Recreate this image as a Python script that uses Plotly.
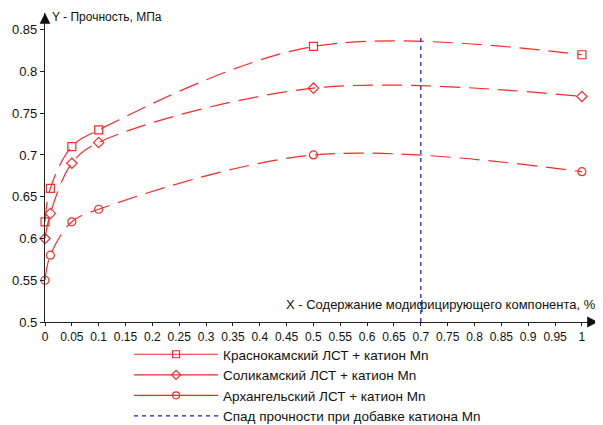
import plotly.graph_objects as go

x_vals = [0, 0.01, 0.05, 0.1, 0.5, 1]
krasnokamsk = [0.62, 0.66, 0.71, 0.73, 0.83, 0.82]
solikamsk = [0.60, 0.63, 0.69, 0.715, 0.78, 0.77]
arkhangelsk = [0.55, 0.58, 0.62, 0.635, 0.70, 0.68]
drop_x = [0.7, 0.7]
drop_y = [0.5, 0.845]

names = ["Краснокамский ЛСТ + катион Mn",
         "Соликамский ЛСТ + катион Mn",
         "Архангельский ЛСТ + катион Mn",
         "Спад прочности при добавке катиона Mn"]

x_ticks = [0, 0.05, 0.1, 0.15, 0.2, 0.25, 0.3, 0.35, 0.4, 0.45, 0.5, 0.55, 0.6,
           0.65, 0.7, 0.75, 0.8, 0.85, 0.9, 0.95, 1]
y_ticks = [0.5, 0.55, 0.6, 0.65, 0.7, 0.75, 0.8, 0.85]

FONT = "Liberation Sans, Arial"
red = "#ff2828"
fig = go.Figure()
for ys, sym, nm in [(krasnokamsk, "square-open", names[0]),
                    (solikamsk, "diamond-open", names[1]),
                    (arkhangelsk, "circle-open", names[2])]:
    # dashed smooth curve through the data
    fig.add_trace(go.Scatter(
        x=x_vals, y=ys, mode="lines", showlegend=False, hoverinfo="skip",
        line=dict(color=red, width=1.2, shape="spline", smoothing=1.0, dash="20px,9px"),
        cliponaxis=False))
    # markers
    fig.add_trace(go.Scatter(
        x=x_vals, y=ys, mode="markers", showlegend=False, name=nm,
        marker=dict(symbol=sym, size=8, color=red, line=dict(width=1.2, color=red)),
        cliponaxis=False))
    # legend entry (solid line with marker)
    fig.add_trace(go.Scatter(
        x=[None], y=[None], name=nm, mode="lines+markers",
        line=dict(color=red, width=1.2),
        marker=dict(symbol=sym, size=7, color=red, line=dict(width=1.2, color=red))))

fig.add_trace(go.Scatter(
    x=drop_x, y=drop_y, name=names[3], mode="lines",
    line=dict(color="#1010ff", width=1.2, dash="4px,4px")))

fig.add_annotation(x=0, y=0.87, xref="x", yref="y", ax=0, ay=12,
                   showarrow=True, arrowhead=2, arrowsize=1.8, arrowwidth=1.2, arrowcolor="#111", text="")
fig.add_annotation(x=1.03, y=0.5, xref="x", yref="y", ax=-12, ay=0,
                   showarrow=True, arrowhead=2, arrowsize=1.8, arrowwidth=1.2, arrowcolor="#111", text="")
fig.add_annotation(x=0, y=0.87, xref="x", yref="y", xanchor="left", yanchor="middle", xshift=5, yshift=-4,
                   showarrow=False, text="Y - Прочность, МПа",
                   font=dict(family=FONT, size=12, color="#111"))
fig.add_annotation(x=1.03, y=0.5, xref="x", yref="y", xanchor="right", yanchor="bottom", yshift=8,
                   showarrow=False, text="X - Содержание модифицирующего компонента, %",
                   font=dict(family=FONT, size=13, color="#111"))

fig.update_xaxes(range=[0, 1.03], tickvals=x_ticks, ticktext=[f"{v:g}" for v in x_ticks],
                 showline=True, linecolor="#222", linewidth=1.2, ticks="outside", ticklen=3,
                 tickcolor="#222", showgrid=False, zeroline=False, automargin=False,
                 tickfont=dict(family=FONT, size=12, color="#111"))
fig.update_yaxes(range=[0.5, 0.87], tickvals=y_ticks, ticktext=[f"{v:g}" for v in y_ticks],
                 showline=True, linecolor="#222", linewidth=1.2, ticks="outside", ticklen=4,
                 tickcolor="#222", showgrid=False, zeroline=False, automargin=False,
                 tickfont=dict(family=FONT, size=13, color="#111"))

# page body has an 8px default margin; size the figure to fit the 603x425 window
fig.update_layout(
    width=595, height=417, plot_bgcolor="white", paper_bgcolor="white",
    margin=dict(l=37, r=5, t=5, b=103, autoexpand=False),
    showlegend=True,
    legend=dict(x=0.152, y=-0.055, xanchor="left", yanchor="top", itemwidth=84,
                font=dict(family=FONT, size=13.5, color="#111"),
                tracegroupgap=0, bgcolor="rgba(0,0,0,0)"),
)
fig.write_html("out.html")
